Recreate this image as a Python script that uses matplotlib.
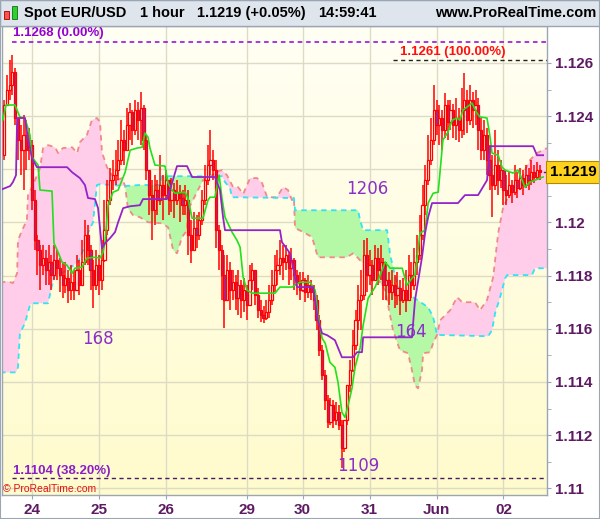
"""
Spot EUR/USD, 1 hour candles with Ichimoku lines and cloud, ProRealTime style.
"""
import numpy as np
import matplotlib
matplotlib.use('Agg')
import matplotlib.pyplot as plt
from matplotlib.colors import LinearSegmentedColormap
from matplotlib.patches import Rectangle

# ---- hourly candles (bar 0 = first visible bar); open = previous close ----
OPEN0 = 1.12253
CLOSE = [
    1.12442, 1.12498, 1.12517, 1.12566, 1.12393, 1.12310, 1.12272, 1.12329, 1.12272, 1.12291,
    1.12084, 1.11933, 1.11896, 1.11839, 1.11866, 1.11821, 1.11851, 1.11802, 1.11858, 1.11828,
    1.11802, 1.11764, 1.11790, 1.11745, 1.11775, 1.11745, 1.11821, 1.11764, 1.11851, 1.11952,
    1.11896, 1.11821, 1.11764, 1.11839, 1.11783, 1.11858, 1.11971, 1.12084, 1.12159, 1.12178,
    1.12197, 1.12235, 1.12310, 1.12272, 1.12366, 1.12415, 1.12348, 1.12423, 1.12385, 1.12430,
    1.12310, 1.12197, 1.12103, 1.12046, 1.12122, 1.12084, 1.12141, 1.12103, 1.12159, 1.12084,
    1.12122, 1.12084, 1.12114, 1.12092, 1.12065, 1.12084, 1.11952, 1.11896, 1.11979, 1.11952,
    1.12009, 1.12084, 1.12159, 1.12216, 1.12235, 1.12197, 1.11971, 1.11896, 1.11802, 1.11708,
    1.11821, 1.11745, 1.11775, 1.11715, 1.11764, 1.11708, 1.11745, 1.11689, 1.11783, 1.11821,
    1.11726, 1.11670, 1.11651, 1.11640, 1.11662, 1.11708, 1.11764, 1.11821, 1.11839, 1.11866,
    1.11851, 1.11877, 1.11828, 1.11858, 1.11802, 1.11775, 1.11745, 1.11783, 1.11738, 1.11764,
    1.11738, 1.11708, 1.11632, 1.11519, 1.11425, 1.11331, 1.11248, 1.11312, 1.11256, 1.11286,
    1.11237, 1.11150, 1.11256, 1.11387, 1.11444, 1.11538, 1.11632, 1.11708, 1.11726, 1.11877,
    1.11802, 1.11839, 1.11783, 1.11866, 1.11821, 1.11851, 1.11764, 1.11783, 1.11738, 1.11764,
    1.11726, 1.11753, 1.11708, 1.11745, 1.11708, 1.11802, 1.11764, 1.11851, 1.11877, 1.11952,
    1.12065, 1.12159, 1.12235, 1.12310, 1.12423, 1.12366, 1.12393, 1.12348, 1.12442, 1.12378,
    1.12423, 1.12366, 1.12393, 1.12348, 1.12423, 1.12461, 1.12385, 1.12461, 1.12423, 1.12442,
    1.12348, 1.12272, 1.12329, 1.12235, 1.12178, 1.12141, 1.12216, 1.12159, 1.12197, 1.12122,
    1.12103, 1.12141, 1.12114, 1.12159, 1.12129, 1.12167, 1.12141, 1.12178, 1.12159, 1.12189,
    1.12171, 1.12197, 1.12190,
]
HIGH = [
    1.12461, 1.12555, 1.12611, 1.12630, 1.12581, 1.12393, 1.12366, 1.12404, 1.12385, 1.12355,
    1.12310, 1.12122, 1.11952, 1.11915, 1.11915, 1.11896, 1.11915, 1.11877, 1.11915, 1.11896,
    1.11866, 1.11851, 1.11851, 1.11821, 1.11839, 1.11821, 1.11877, 1.11858, 1.11933, 1.12009,
    1.11990, 1.11915, 1.11858, 1.11896, 1.11877, 1.11933, 1.12084, 1.12159, 1.12204, 1.12235,
    1.12272, 1.12310, 1.12385, 1.12348, 1.12430, 1.12449, 1.12423, 1.12461, 1.12453, 1.12491,
    1.12442, 1.12329, 1.12197, 1.12159, 1.12178, 1.12159, 1.12253, 1.12178, 1.12197, 1.12159,
    1.12167, 1.12148, 1.12159, 1.12141, 1.12122, 1.12141, 1.12122, 1.12009, 1.12039, 1.12028,
    1.12039, 1.12122, 1.12216, 1.12291, 1.12348, 1.12272, 1.12235, 1.11990, 1.11915, 1.11877,
    1.11877, 1.11851, 1.11821, 1.11802, 1.11821, 1.11783, 1.11790, 1.11764, 1.11839, 1.11847,
    1.11821, 1.11753, 1.11708, 1.11685, 1.11708, 1.11764, 1.11821, 1.11877, 1.11896, 1.11933,
    1.11915, 1.11915, 1.11888, 1.11903, 1.11866, 1.11821, 1.11813, 1.11813, 1.11790, 1.11802,
    1.11783, 1.11764, 1.11726, 1.11651, 1.11538, 1.11444, 1.11350, 1.11338, 1.11331, 1.11323,
    1.11312, 1.11256, 1.11218, 1.11387, 1.11482, 1.11595, 1.11670, 1.11764, 1.11821, 1.11933,
    1.11941, 1.11896, 1.11858, 1.11915, 1.11903, 1.11915, 1.11866, 1.11851, 1.11813, 1.11821,
    1.11802, 1.11813, 1.11783, 1.11790, 1.11821, 1.11877, 1.11851, 1.11903, 1.11952, 1.12028,
    1.12141, 1.12216, 1.12329, 1.12393, 1.12517, 1.12461, 1.12442, 1.12423, 1.12487, 1.12461,
    1.12461, 1.12445, 1.12468, 1.12430, 1.12506, 1.12562, 1.12498, 1.12517, 1.12491, 1.12498,
    1.12468, 1.12393, 1.12385, 1.12355, 1.12291, 1.12253, 1.12348, 1.12272, 1.12235, 1.12197,
    1.12178, 1.12189, 1.12159, 1.12216, 1.12189, 1.12204, 1.12197, 1.12216, 1.12204, 1.12235,
    1.12216, 1.12227, 1.12216,
]
LOW = [
    1.12235, 1.12442, 1.12461, 1.12479, 1.12366, 1.12235, 1.12178, 1.12122, 1.12197, 1.12235,
    1.12046, 1.11896, 1.11802, 1.11745, 1.11802, 1.11764, 1.11764, 1.11745, 1.11783, 1.11783,
    1.11738, 1.11715, 1.11734, 1.11696, 1.11708, 1.11708, 1.11745, 1.11726, 1.11802, 1.11839,
    1.11839, 1.11745, 1.11677, 1.11745, 1.11726, 1.11745, 1.11851, 1.11952, 1.12065, 1.12122,
    1.12141, 1.12159, 1.12216, 1.12216, 1.12272, 1.12310, 1.12291, 1.12329, 1.12310, 1.12291,
    1.12272, 1.12159, 1.12028, 1.11933, 1.11990, 1.12028, 1.12065, 1.12009, 1.12084, 1.12028,
    1.12039, 1.12016, 1.12065, 1.12001, 1.12028, 1.12028, 1.11877, 1.11847, 1.11915, 1.11903,
    1.11933, 1.11990, 1.12065, 1.12141, 1.12178, 1.12159, 1.11903, 1.11821, 1.11708, 1.11602,
    1.11708, 1.11670, 1.11708, 1.11670, 1.11651, 1.11640, 1.11662, 1.11632, 1.11708, 1.11745,
    1.11689, 1.11640, 1.11625, 1.11621, 1.11632, 1.11640, 1.11689, 1.11738, 1.11764, 1.11802,
    1.11783, 1.11821, 1.11764, 1.11783, 1.11745, 1.11726, 1.11708, 1.11738, 1.11700, 1.11715,
    1.11708, 1.11670, 1.11595, 1.11498, 1.11406, 1.11293, 1.11226, 1.11237, 1.11226, 1.11237,
    1.11218, 1.11078, 1.11135, 1.11237, 1.11361, 1.11436, 1.11519, 1.11595, 1.11595, 1.11708,
    1.11738, 1.11764, 1.11726, 1.11783, 1.11764, 1.11783, 1.11708, 1.11708, 1.11689, 1.11708,
    1.11677, 1.11689, 1.11651, 1.11696, 1.11662, 1.11708, 1.11715, 1.11745, 1.11802, 1.11858,
    1.11933, 1.12028, 1.12141, 1.12216, 1.12291, 1.12329, 1.12291, 1.12272, 1.12317, 1.12310,
    1.12348, 1.12317, 1.12310, 1.12302, 1.12317, 1.12329, 1.12336, 1.12366, 1.12355, 1.12366,
    1.12272, 1.12235, 1.12235, 1.12178, 1.12122, 1.12020, 1.12122, 1.12103, 1.12129, 1.12065,
    1.12065, 1.12092, 1.12073, 1.12103, 1.12092, 1.12122, 1.12103, 1.12129, 1.12122, 1.12141,
    1.12148, 1.12159, 1.12159,
]

# ---- Ichimoku: tenkan (green) and kijun (purple), breakpoints in bar units ----
TENKAN_X = [-1.4, -0.4, 0.7, 3.9, 5.7, 7.5, 9.3, 10.0, 12.2, 12.9, 17.2, 17.9, 19.4, 20.8,
            22.6, 24.4, 25.4, 28.0, 29.7, 32.6, 34.4, 35.5, 36.2, 37.3, 39.1, 40.9, 43.4,
            45.2, 47.7, 49.5, 50.5, 51.6, 52.3, 54.1, 57.7, 58.8, 60.2, 61.3, 64.9, 65.9,
            67.4, 71.3, 73.1, 73.8, 75.6, 77.1, 78.1, 79.2, 81.7, 83.5, 84.6, 85.7, 87.1,
            88.9, 97.1, 98.9, 103.2, 104.3, 106.1, 109.7, 111.5, 112.5, 114.0, 115.1, 116.8,
            118.6, 119.7, 121.1, 122.2, 123.3, 124.7, 125.8, 127.6, 128.7, 130.5, 133.0,
            134.8, 136.6, 138.4, 142.7, 144.4, 146.2, 147.3, 149.1, 150.9, 152.0, 153.8,
            155.6, 157.3, 159.1, 160.6, 162.4, 163.4, 164.5, 167.7, 169.5, 170.6, 173.1,
            174.2, 174.9, 177.1, 178.5, 179.6, 182.4, 184.2, 185.7, 186.7, 188.5, 193.2]
TENKAN_Y = [1.12415, 1.12385, 1.12442, 1.12442, 1.12397, 1.12393, 1.12329, 1.12246, 1.12216,
            1.12122, 1.12118, 1.11922, 1.11888, 1.11851, 1.11839, 1.11809, 1.11828, 1.11832,
            1.11866, 1.11869, 1.11866, 1.11888, 1.11926, 1.12065, 1.12114, 1.12122, 1.12189,
            1.12272, 1.12280, 1.12283, 1.12336, 1.12321, 1.12280, 1.12216, 1.12212, 1.12148,
            1.12122, 1.12110, 1.12114, 1.12092, 1.12016, 1.12016, 1.12084, 1.12095, 1.12095,
            1.12178, 1.12092, 1.12020, 1.11964, 1.11933, 1.11907, 1.11794, 1.11745, 1.11734,
            1.11734, 1.11757, 1.11757, 1.11764, 1.11775, 1.11775, 1.11745, 1.11651, 1.11564,
            1.11546, 1.11474, 1.11455, 1.11399, 1.11286, 1.11267, 1.11312, 1.11376, 1.11455,
            1.11527, 1.11613, 1.11715, 1.11757, 1.11802, 1.11851, 1.11828, 1.11828, 1.11764,
            1.11790, 1.11802, 1.11960, 1.11971, 1.12073, 1.12110, 1.12114, 1.12310, 1.12340,
            1.12385, 1.12393, 1.12385, 1.12423, 1.12449, 1.12412, 1.12397, 1.12393, 1.12321,
            1.12261, 1.12253, 1.12208, 1.12197, 1.12186, 1.12197, 1.12159, 1.12133, 1.12152,
            1.12171]

KIJUN_X = [-1.4, 2.2, 3.2, 4.3, 4.7, 7.5, 8.6, 10.0, 11.8, 22.6, 24.4, 27.2, 29.0, 30.1,
           32.6, 33.7, 35.1, 36.2, 38.0, 39.8, 40.9, 42.7, 45.2, 48.7, 49.8, 58.4, 60.2,
           62.0, 65.6, 67.4, 75.6, 77.4, 78.5, 79.2, 98.9, 99.6, 102.5, 103.6, 105.0, 110.8,
           112.5, 114.0, 115.8, 118.6, 121.1, 125.1, 126.5, 128.3, 128.7, 146.2, 147.3,
           149.8, 150.9, 152.0, 153.4, 162.7, 165.2, 169.9, 173.1, 174.2, 189.6, 191.0, 193.2]
KIJUN_Y = [1.12122, 1.12137, 1.12152, 1.12178, 1.12393, 1.12393, 1.12317, 1.12242, 1.12208,
           1.12208, 1.12189, 1.12167, 1.12141, 1.12092, 1.12088, 1.12054, 1.11903, 1.11922,
           1.11941, 1.11964, 1.12001, 1.12054, 1.12061, 1.12065, 1.12088, 1.12088, 1.12148,
           1.12212, 1.12212, 1.12171, 1.12171, 1.12122, 1.12020, 1.11971, 1.11971, 1.11926,
           1.11884, 1.11832, 1.11757, 1.11757, 1.11632, 1.11583, 1.11576, 1.11557, 1.11493,
           1.11493, 1.11512, 1.11512, 1.11568, 1.11568, 1.11708, 1.11869, 1.11960, 1.12020,
           1.12073, 1.12073, 1.12103, 1.12103, 1.12159, 1.12287, 1.12287, 1.12253, 1.12253]

# ---- cloud: senkou span A (salmon) and span B (cyan) ----
SPAN_A_X = [-1.4, 1.1, 3.2, 4.7, 5.0, 6.5, 8.2, 8.6, 10.4, 12.9, 14.0, 15.8, 18.3, 19.4,
            21.1, 24.4, 26.2, 27.2, 29.7, 31.5, 33.3, 34.4, 35.1, 36.9, 38.7, 40.5, 42.3,
            43.4, 44.4, 46.2, 48.7, 51.6, 56.6, 58.8, 60.6, 62.0, 63.8, 65.6, 65.9, 67.7,
            69.5, 71.3, 73.1, 74.2, 75.6, 78.1, 79.9, 82.1, 83.9, 85.7, 88.2, 90.7, 92.5,
            94.3, 97.8, 100.0, 101.8, 103.2, 103.9, 104.3, 107.2, 110.4, 112.5, 122.9, 125.1,
            126.9, 129.4, 133.0, 136.6, 139.4, 141.9, 144.8, 146.2, 147.3, 148.4, 149.8,
            150.2, 152.7, 153.8, 155.2, 156.3, 158.1, 159.9, 162.4, 164.2, 168.8, 170.6,
            173.1, 175.3, 177.1, 178.9, 181.4, 185.0, 188.5, 191.0, 194.6]
SPAN_A_Y = [1.11772, 1.11779, 1.11772, 1.11809, 1.11933, 1.11971, 1.12009, 1.12103, 1.12141,
            1.12204, 1.12280, 1.12291, 1.12283, 1.12261, 1.12280, 1.12283, 1.12261, 1.12302,
            1.12329, 1.12385, 1.12393, 1.12378, 1.12265, 1.12208, 1.12178, 1.12159, 1.12167,
            1.12137, 1.12054, 1.12028, 1.12020, 1.12001, 1.11997, 1.11982, 1.11896, 1.11884,
            1.11945, 1.11971, 1.12046, 1.12084, 1.12122, 1.12159, 1.12178, 1.12174, 1.12189,
            1.12197, 1.12178, 1.12133, 1.12133, 1.12107, 1.12167, 1.12167, 1.12148, 1.12095,
            1.12095, 1.12133, 1.12122, 1.12084, 1.12092, 1.11979, 1.11964, 1.11945, 1.11869,
            1.11869, 1.11884, 1.11866, 1.11836, 1.11802, 1.11745, 1.11595, 1.11519, 1.11508,
            1.11444, 1.11387, 1.11376, 1.11444, 1.11508, 1.11512, 1.11546, 1.11577, 1.11632,
            1.11651, 1.11670, 1.11719, 1.11700, 1.11700, 1.11670, 1.11708, 1.11794, 1.11960,
            1.12058, 1.12110, 1.12159, 1.12235, 1.12261, 1.12280]
SPAN_B_X = [-1.4, 4.3, 5.0, 5.7, 7.5, 9.3, 10.0, 15.8, 17.2, 18.3, 20.8, 22.6, 26.5, 28.0,
            30.1, 31.9, 33.3, 34.4, 43.4, 48.7, 55.9, 56.6, 74.2, 76.3, 78.1, 79.2, 81.0,
            81.7, 103.6, 103.9, 104.3, 126.9, 127.6, 128.7, 137.3, 138.4, 140.1, 141.9,
            144.8, 146.6, 152.0, 153.8, 155.2, 173.5, 174.9, 176.0, 177.8, 179.6, 180.3,
            189.2, 190.3, 194.6]
SPAN_B_Y = [1.11436, 1.11436, 1.11455, 1.11583, 1.11621, 1.11689, 1.11696, 1.11696, 1.11764,
            1.11802, 1.11809, 1.11821, 1.11851, 1.11884, 1.11960, 1.12001, 1.12141, 1.12144,
            1.12137, 1.12141, 1.12141, 1.12174, 1.12174, 1.12174, 1.12174, 1.12152, 1.12129,
            1.12095, 1.12092, 1.12092, 1.12046, 1.12046, 1.12009, 1.11971, 1.11971, 1.11877,
            1.11802, 1.11745, 1.11719, 1.11719, 1.11681, 1.11644, 1.11577, 1.11572, 1.11595,
            1.11659, 1.11719, 1.11790, 1.11802, 1.11802, 1.11828, 1.11828]
CLOUD_EDGES = [-1.4, 43.4, 74.2, 103.9, 155.2, 194.6]   # where span A and B cross

DAY_POS = [10, 34, 58, 87, 107, 131, 155, 179]
DAY_LABELS = ['24', '25', '26', '29', '30', '31', 'Jun', '02']
PRICE_TICKS = [1.110, 1.112, 1.114, 1.116, 1.118, 1.120, 1.122, 1.124, 1.126]
PRICE_LABELS = ['1.11', '1.112', '1.114', '1.116', '1.118', '1.12', '', '1.124', '1.126']
MINOR_TICKS = [1.111, 1.113, 1.115, 1.117, 1.119, 1.121, 1.123, 1.125]

FIB_LEVELS = [1.1268, 1.1261, 1.1104]
FIB_LABELS = ['1.1268 (0.00%)', '1.1261 (100.00%)', '1.1104 (38.20%)']
LAST_PRICE = 1.1219

TXT = '#5e1b63'
PURPLE = '#8a2fc8'

plt.rcParams['font.family'] = ['Liberation Sans', 'DejaVu Sans']

fig = plt.figure(figsize=(6.0, 5.19), dpi=100)
fig.patch.set_facecolor('white')
ax = fig.add_axes([2 / 600, 24 / 519, 545 / 600, 469 / 519])
x0, x1 = -0.72, 194.6
y0, y1 = 1.109747, 1.127392
ax.set_xlim(x0, x1)
ax.set_ylim(y0, y1)

# background gradient
grad = np.linspace(0, 1, 256).reshape(-1, 1)
cmap = LinearSegmentedColormap.from_list('bg', ['#fffff4', '#fffbcc'])
ax.imshow(grad, cmap=cmap, extent=[x0, x1, y0, y1], aspect='auto', zorder=0)

for p in PRICE_TICKS:
    ax.axhline(p, color='#dcdcc4', lw=1.0, zorder=0.5)
for d in DAY_POS:
    ax.axvline(d, color='#dcdcc4', lw=1.0, zorder=0.5)

# cloud fill, colour alternates at every crossing
sa_x, sa_y = np.array(SPAN_A_X), np.array(SPAN_A_Y)
sb_x, sb_y = np.array(SPAN_B_X), np.array(SPAN_B_Y)
fills = ['#ffcce9', '#b5f8a5', '#ffcce9', '#b5f8a5', '#ffcce9']
for lo, hi, c in zip(CLOUD_EDGES[:-1], CLOUD_EDGES[1:], fills):
    ma = (sa_x >= lo) & (sa_x <= hi)
    mb = (sb_x >= lo) & (sb_x <= hi)
    ax.fill(np.r_[sa_x[ma], sb_x[mb][::-1]], np.r_[sa_y[ma], sb_y[mb][::-1]],
            color=c, lw=0, zorder=1)
ax.plot(sa_x, sa_y, color='#f08a8a', lw=1.3, dashes=(3, 2.5), zorder=1.5)
ax.plot(sb_x, sb_y, color='#30e4f4', lw=1.3, dashes=(3, 2.5), zorder=1.5)

# candles
close = np.array(CLOSE)
opn = np.r_[OPEN0, close[:-1]]
high = np.maximum(np.array(HIGH), np.maximum(opn, close))
low = np.minimum(np.array(LOW), np.minimum(opn, close))
idx = np.arange(len(close))
up = close >= opn
ax.vlines(idx, low, high, color='#ff0000', lw=1.1, zorder=2)
ax.bar(idx[up], (close - opn)[up], bottom=opn[up], width=0.78,
       facecolor='#fffbe8', edgecolor='#ff0000', lw=0.9, zorder=3)
ax.bar(idx[~up], (opn - close)[~up], bottom=close[~up], width=0.78,
       facecolor='#a8288c', edgecolor='#ff0000', lw=0.9, zorder=3)

ax.plot(TENKAN_X, TENKAN_Y, color='#22e01e', lw=1.2, zorder=4)
ax.plot(KIJUN_X, KIJUN_Y, color='#9424c8', lw=1.3, zorder=4)

# fibonacci levels
ax.plot([3.0, x1], [FIB_LEVELS[0]] * 2, color='#9400d3', lw=1.1, dashes=(3, 2.5), zorder=5)
ax.plot([139.4, x1], [FIB_LEVELS[1]] * 2, color='#222222', lw=1.0, dashes=(3, 2.5), zorder=5)
ax.plot([3.0, x1], [FIB_LEVELS[2]] * 2, color='#4a1a6a', lw=1.0, dashes=(3, 2.5), zorder=5)
ax.text(3.2, 1.12713, FIB_LABELS[0], color='#9400d3', fontsize=9.5, fontweight='bold',
        va='center', ha='left', zorder=6)
ax.text(141.9, 1.12641, FIB_LABELS[1], color='#ff1010', fontsize=9.5, fontweight='bold',
        va='center', ha='left', zorder=6)
ax.text(3.2, 1.11065, FIB_LABELS[2], color='#8a1fc8', fontsize=9.5, fontweight='bold',
        va='center', ha='left', zorder=6)

# bar counts
for s, xx, yy in [('168', 33.5, 1.11560), ('1206', 130.1, 1.12126),
                  ('164', 145.9, 1.11588), ('1109', 126.9, 1.11084)]:
    ax.text(xx, yy, s, color=PURPLE, fontsize=12, family='DejaVu Sans',
            ha='center', va='center', zorder=6)

# axes
for side in ['top', 'bottom', 'left', 'right']:
    ax.spines[side].set_color('#9aa6b4')
    ax.spines[side].set_linewidth(1.0)
ax.yaxis.tick_right()
ax.set_yticks(PRICE_TICKS)
ax.set_yticklabels(PRICE_LABELS, fontsize=11, fontweight='bold', color=TXT)
ax.set_yticks(MINOR_TICKS, minor=True)
ax.tick_params(axis='y', which='both', direction='out', length=3, color='#9aa6b4', pad=3)
ax.set_xticks(DAY_POS)
ax.set_xticklabels(DAY_LABELS, fontsize=11, fontweight='bold', color=TXT)
ax.tick_params(axis='x', direction='out', length=3, color='#9aa6b4', pad=3)

# last price box
ax.plot([x1 - 1.2, x1], [LAST_PRICE] * 2, color='#5e1b63', lw=1.0, clip_on=False, zorder=6)
ax.text(1.005, LAST_PRICE, '1.1219', transform=ax.get_yaxis_transform(),
        fontsize=11, fontweight='bold', color='black', ha='left', va='center',
        bbox=dict(boxstyle='square,pad=0.25', facecolor='#ffd21c', edgecolor='#b08a00', lw=0.8),
        clip_on=False, zorder=7)

# header bar
fig.patches.append(Rectangle((0, 1 - 26 / 519), 1, 26 / 519, transform=fig.transFigure,
                             facecolor='#dfe5ec', edgecolor='#9aa6b4', lw=1.0))
fig.patches.append(Rectangle((4 / 600, 1 - 19 / 519), 5 / 600, 8 / 519, transform=fig.transFigure,
                             facecolor='#ff5050', edgecolor='#a00000', lw=0.6))
fig.patches.append(Rectangle((12 / 600, 1 - 19 / 519), 5 / 600, 13 / 519, transform=fig.transFigure,
                             facecolor='#30d030', edgecolor='#107010', lw=0.6))
yt = 1 - 13 / 519
for s, xp in [('Spot EUR/USD', 24), ('1 hour', 140), ('1.1219 (+0.05%)', 197), ('14:59:41', 318)]:
    fig.text(xp / 600, yt, s, fontsize=10.5, fontweight='bold', va='center', ha='left')
fig.text(596 / 600, yt, 'www.ProRealTime.com', fontsize=10.5, fontweight='bold',
         va='center', ha='right')
fig.text(3 / 600, 1 - 489 / 519, '\u00a9 ProRealTime.com', fontsize=7.5, color='#e01010',
         va='center', ha='left')

fig.patches.append(Rectangle((0, 0), 1, 1, transform=fig.transFigure, fill=False,
                             edgecolor='#9aa6b4', lw=1.5))

fig.savefig('out.png', dpi=100)
